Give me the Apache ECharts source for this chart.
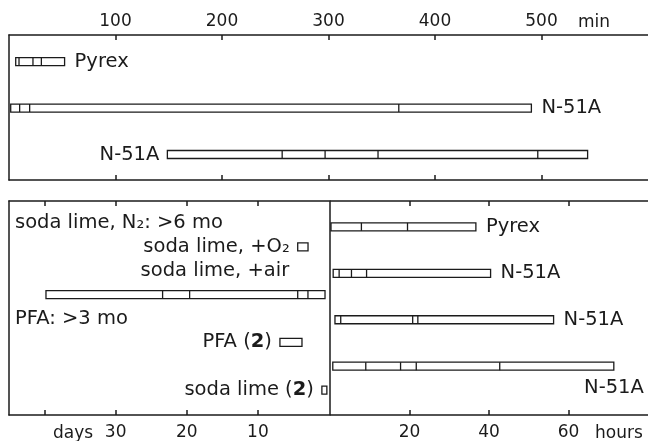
<!DOCTYPE html>
<html>
<head>
<meta charset="utf-8">
<script src="https://cdn.jsdelivr.net/npm/echarts@6/dist/echarts.min.js"></script>
<style>
  html, body { margin: 0; padding: 0; background: #fff; }
  #chart { width: 648px; height: 441px; }
</style>
</head>
<body>
<div id="chart"></div>
<script>
var FONT = 'DejaVu Sans';
var INK = '#1b1b1b';

// top panel, minutes
var minTicks = [100, 200, 300, 400, 500];
var minBounds = [
    [6.3, 9.4, 22.5, 30.4, 52.2],
    [1.6, 10, 19.4, 366, 490.5],
    [148.7, 256.5, 296.8, 346.5, 496.5, 543.3]
];
var minRows = [0, 1, 2];
var minLabels = ['Pyrex', 'N-51A', 'N-51A'];

// bottom left, days (axis runs backwards)
var dayTicks = [10, 20, 30, 40];
var dayTickLabels = [30, 20, 10];
var dayBounds = [
    [4.4, 2.95],
    [39.8, 23.4, 19.6, 4.4, 2.96, 0.56],
    [6.9, 3.8],
    [1.0, 0.3]
];
var dayRows = [1, 3, 5, 7];
var dayLabels = ['soda lime, +O₂', '', 'PFA ({b|2})', 'soda lime ({b|2})'];
var dayNotes = ['soda lime, N₂: >6 mo', 'soda lime, +air', 'PFA: >3 mo'];
var dayNoteRows = [0, 2, 4];
var dayNoteAt = [null, 5.6, null];

// bottom right, hours
var hourTicks = [20, 40, 60];
var hourBounds = [
    [0.25, 7.9, 19.5, 36.7],
    [0.8, 2.3, 5.4, 9.2, 40.4],
    [1.25, 2.7, 20.8, 22.1, 56.25],
    [0.7, 9, 17.75, 21.7, 42.7, 71.4]
];
var hourRows = [0, 1, 2, 3];
var hourLabels = ['Pyrex', 'N-51A', 'N-51A', 'N-51A'];

// where each bar's name goes
var minPlace = ['right', 'right', 'left'];
var dayPlace = ['left', 'none', 'left', 'left'];
var hourPlace = ['right', 'right', 'right', 'below'];

var RICH = { b: { fontFamily: FONT, fontSize: 19.5, fontWeight: 'bold', fill: INK } };

function textStyle(text, align, size) {
    return {
        text: text, fill: INK, fontFamily: FONT, fontSize: size || 19.5,
        align: align, verticalAlign: 'middle', rich: RICH
    };
}

function bars(axis, yAxis, boundsList, rowList, labels, places) {
    return {
        type: 'custom',
        xAxisIndex: axis, yAxisIndex: yAxis,
        clip: false,
        silent: true,
        data: boundsList.map(function (b, i) { return [b[0], b[b.length - 1], rowList[i]]; }),
        encode: { x: [0, 1], y: 2 },
        renderItem: function (params, api) {
            var i = params.dataIndex;
            var b = boundsList[i];
            var row = rowList[i];
            var xs = b.map(function (v) { return api.coord([v, row])[0]; });
            var yc = api.coord([b[0], row])[1];
            var x0 = Math.min.apply(null, xs), x1 = Math.max.apply(null, xs);
            var h = 8;
            var kids = [{
                type: 'rect',
                shape: { x: x0, y: yc - h / 2, width: x1 - x0, height: h },
                style: { fill: '#fff', stroke: INK, lineWidth: 1.3 }
            }];
            xs.slice(1, -1).forEach(function (x) {
                kids.push({
                    type: 'line',
                    shape: { x1: x, y1: yc - h / 2, x2: x, y2: yc + h / 2 },
                    style: { stroke: INK, lineWidth: 1.3 }
                });
            });
            var place = places[i];
            if (labels[i] && place !== 'none') {
                if (place === 'left') {
                    kids.push({ type: 'text', x: x0 - 8, y: yc, style: textStyle(labels[i], 'right') });
                } else if (place === 'below') {
                    kids.push({ type: 'text', x: x1 + 30, y: yc + 22, style: textStyle(labels[i], 'right') });
                } else {
                    kids.push({ type: 'text', x: x1 + 10, y: yc, style: textStyle(labels[i], 'left') });
                }
            }
            return { type: 'group', children: kids };
        }
    };
}

function frameX(grid, pos, ticks, extra) {
    return Object.assign({
        type: 'value', gridIndex: grid, position: pos,
        axisLine: { show: true, onZero: false, lineStyle: { color: INK, width: 1.5 } },
        axisTick: { show: true, inside: true, length: 5, customValues: ticks, lineStyle: { color: INK, width: 1.5 } },
        splitLine: { show: false },
        axisLabel: { show: false }
    }, extra);
}

function tickLabels(list, margin) {
    return {
        show: true, color: INK, fontFamily: FONT, fontSize: 17, margin: margin,
        customValues: list,
        formatter: function (v) { return list.indexOf(v) >= 0 ? String(v) : ''; }
    };
}

function frameY(grid, min, max) {
    return {
        type: 'value', gridIndex: grid, inverse: true, min: min, max: max,
        axisLine: { show: true, onZero: false, lineStyle: { color: INK, width: 1.5 } },
        axisTick: { show: false }, axisLabel: { show: false }, splitLine: { show: false }
    };
}

var chart = echarts.init(document.getElementById('chart'), null, { renderer: 'canvas' });

chart.setOption({
    animation: false,
    backgroundColor: '#fff',
    textStyle: { fontFamily: FONT },
    grid: [
        { left: 9, top: 35, width: 640, height: 145 },
        { left: 9, top: 201, width: 320, height: 215 },
        { left: 330, top: 201, width: 320, height: 215 }
    ],
    xAxis: [
        frameX(0, 'top', minTicks, { min: 0, max: 600, interval: 100, axisLabel: tickLabels(minTicks, 5) }),
        frameX(0, 'bottom', minTicks, { min: 0, max: 600, interval: 100 }),
        frameX(1, 'bottom', dayTicks, { min: 0, max: 45, interval: 10, inverse: true, axisLabel: tickLabels(dayTickLabels, 9) }),
        frameX(1, 'top', dayTicks, { min: 0, max: 45, interval: 10, inverse: true }),
        frameX(2, 'bottom', hourTicks, { min: 0, max: 80, interval: 20, axisLabel: tickLabels(hourTicks, 9) }),
        frameX(2, 'top', hourTicks, { min: 0, max: 80, interval: 20 })
    ],
    yAxis: [
        frameY(0, -0.575, 2.55),
        frameY(1, -0.917, 8.042),
        frameY(2, -0.556, 4.05)
    ],
    graphic: [
        { type: 'text', x: 578, y: 23, style: textStyle('min', 'left', 17) },
        { type: 'text', x: 53, y: 434, style: textStyle('days', 'left', 17) },
        { type: 'text', x: 595, y: 434, style: textStyle('hours', 'left', 17) }
    ],
    series: [
        bars(0, 0, minBounds, minRows, minLabels, minPlace),
        bars(2, 1, dayBounds, dayRows, dayLabels, dayPlace),
        bars(4, 2, hourBounds, hourRows, hourLabels, hourPlace),
        {
            type: 'custom',
            xAxisIndex: 2, yAxisIndex: 1,
            clip: false, silent: true,
            data: dayNotes.map(function (t, i) { return [dayNoteAt[i] == null ? 0 : dayNoteAt[i], dayNoteRows[i]]; }),
            encode: { x: 0, y: 1 },
            renderItem: function (params, api) {
                var i = params.dataIndex;
                var p = api.coord([api.value(0), api.value(1)]);
                var free = dayNoteAt[i] == null;
                return {
                    type: 'text',
                    x: free ? params.coordSys.x + 6 : p[0],
                    y: p[1],
                    style: textStyle(dayNotes[i], free ? 'left' : 'right')
                };
            }
        }
    ]
});
</script>
</body>
</html>
